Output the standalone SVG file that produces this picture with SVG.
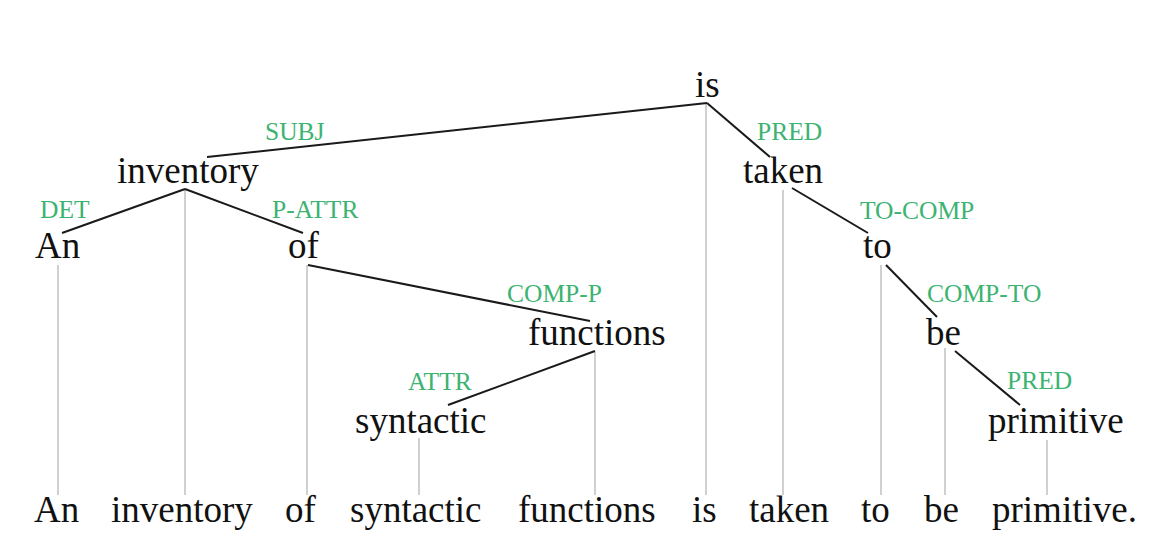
<svg xmlns="http://www.w3.org/2000/svg" width="1176" height="559" viewBox="0 0 1176 559">
<style>
.w{font-family:"Liberation Serif","Times New Roman",serif;font-size:37px;fill:#111}
.l{font-family:"Liberation Serif","Times New Roman",serif;font-size:25.5px;fill:#3cb371}
.e{stroke:#1a1a1a;stroke-width:2;fill:none}
.p{stroke:#c0c0c0;stroke-width:1.5;fill:none}
</style>
<rect width="1176" height="559" fill="#fff"/>
<g id="projections">
<line class="p" x1="58" y1="265" x2="58" y2="495"/>
<line class="p" x1="185" y1="189" x2="185" y2="495"/>
<line class="p" x1="307" y1="265" x2="307" y2="495"/>
<line class="p" x1="419" y1="438" x2="419" y2="495"/>
<line class="p" x1="595" y1="352" x2="595" y2="495"/>
<line class="p" x1="706" y1="103" x2="706" y2="495"/>
<line class="p" x1="783" y1="190" x2="783" y2="495"/>
<line class="p" x1="881" y1="265" x2="881" y2="495"/>
<line class="p" x1="945" y1="348" x2="945" y2="495"/>
<line class="p" x1="1047" y1="440" x2="1047" y2="495"/>
</g>
<g id="connectors">
<line class="e" x1="707" y1="103" x2="207" y2="157"/>
<line class="e" x1="707" y1="103" x2="770" y2="157"/>
<line class="e" x1="185" y1="189" x2="62" y2="233"/>
<line class="e" x1="185" y1="189" x2="303" y2="233"/>
<line class="e" x1="308" y1="265" x2="590" y2="321"/>
<line class="e" x1="595" y1="351" x2="448" y2="405"/>
<line class="e" x1="792" y1="188" x2="868" y2="233"/>
<line class="e" x1="886" y1="265" x2="937" y2="317"/>
<line class="e" x1="955" y1="351" x2="1020" y2="405"/>
</g>
<g id="labels">
<text class="l" x="265" y="140">SUBJ</text>
<text class="l" x="757" y="140">PRED</text>
<text class="l" x="40" y="218">DET</text>
<text class="l" x="272" y="218">P-ATTR</text>
<text class="l" x="860" y="219">TO-COMP</text>
<text class="l" x="507" y="302">COMP-P</text>
<text class="l" x="927" y="302">COMP-TO</text>
<text class="l" x="408" y="390">ATTR</text>
<text class="l" x="1007" y="389">PRED</text>
</g>
<g id="node-is"><text class="w" x="695" y="97">is</text></g>
<g id="node-inventory"><text class="w" x="117" y="183">inventory</text></g>
<g id="node-taken"><text class="w" x="743" y="183">taken</text></g>
<g id="node-An"><text class="w" x="35" y="258">An</text></g>
<g id="node-of"><text class="w" x="288" y="258">of</text></g>
<g id="node-to"><text class="w" x="863" y="258">to</text></g>
<g id="node-functions"><text class="w" x="528" y="345">functions</text></g>
<g id="node-be"><text class="w" x="926" y="345">be</text></g>
<g id="node-syntactic"><text class="w" x="355" y="433">syntactic</text></g>
<g id="node-primitive"><text class="w" x="988" y="433">primitive</text></g>
<g id="sentence">
<text class="w" x="34" y="522">An</text>
<text class="w" x="111" y="522">inventory</text>
<text class="w" x="285" y="522">of</text>
<text class="w" x="350" y="522">syntactic</text>
<text class="w" x="518" y="522">functions</text>
<text class="w" x="692" y="522">is</text>
<text class="w" x="749" y="522">taken</text>
<text class="w" x="861" y="522">to</text>
<text class="w" x="924" y="522">be</text>
<text class="w" x="992" y="522">primitive.</text>
</g>
</svg>
